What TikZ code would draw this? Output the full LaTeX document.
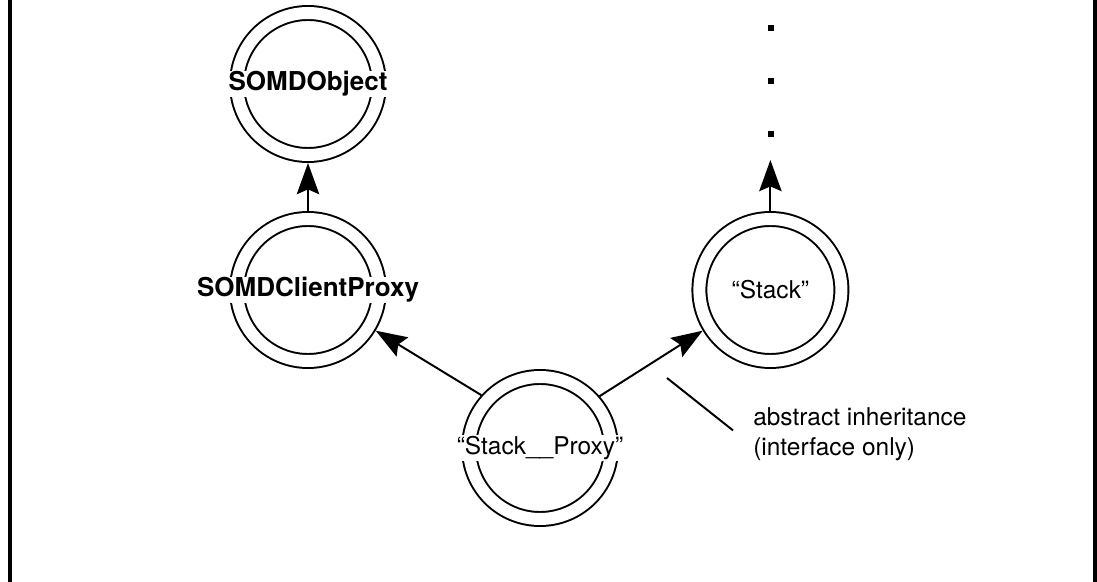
\documentclass[tikz,border=0pt]{standalone}
\usepackage{fontspec}
\setmainfont{TeX Gyre Heros}
\usetikzlibrary{arrows.meta}
\tikzset{
  ring/.style={circle,draw,line width=1.4pt,double,double distance=0.3cm,
    minimum size=3.55cm,outer sep=0.2cm},
  boldlbl/.style={fill=white,inner sep=0.5pt,font=\fontsize{18.5}{22}\selectfont\bfseries},
  plainlbl/.style={fill=white,inner sep=0.5pt,font=\fontsize{17.4}{21}\selectfont},
  inh/.style={line width=1.4pt,-{Stealth[length=0.78cm,width=0.56cm,inset=0.12cm]}},
  note/.style={anchor=west,align=left,inner sep=0pt,font=\fontsize{17.4}{21.3}\selectfont}
}
\begin{document}
\begin{tikzpicture}
	\useasboundingbox (0,0) rectangle (27.425,14.55);
	\draw[line width=2.8pt] (0.25,0) -- (0.25,14.55);
	\draw[line width=2.8pt] (27.375,0) -- (27.375,14.55);
	\node[ring] (obj) at (7.7,12.45) {};
	\node[ring] (client) at (7.7,7.3) {};
	\node[ring] (stack) at (19.26,7.3) {};
	\node[ring] (proxy) at (13.5,3.35) {};
	\node[boldlbl] (objlbl) at (obj) {SOMDObject};
	\node[boldlbl] (clientlbl) at (client) {SOMDClientProxy};
	\node[plainlbl] (stacklbl) at (stack) {“Stack”};
	\node[plainlbl] (proxylbl) at (proxy) {“Stack\_\_Proxy”};
	\draw[inh] (client) -- (obj);
	\draw[inh] (proxy.138) -- (client.-31);
	\draw[inh] (proxy.41) -- (stack.211);
	\coordinate (more) at (19.26,10.55);
	\draw[inh] (stack) -- (more);
	\foreach \y in {13.85,12.525,11.2} {
	\fill (19.28,\y) +(-0.08,-0.08) rectangle +(0.08,0.08);
	}
	\coordinate (n1) at (16.675,5.1);
	\coordinate (n2) at (18.325,3.79);
	\draw[line width=1.4pt] (n1) -- (n2);
	\node[note] (notelbl) at (18.825,3.7) {abstract inheritance\\(interface only)};
\end{tikzpicture}
\end{document}
